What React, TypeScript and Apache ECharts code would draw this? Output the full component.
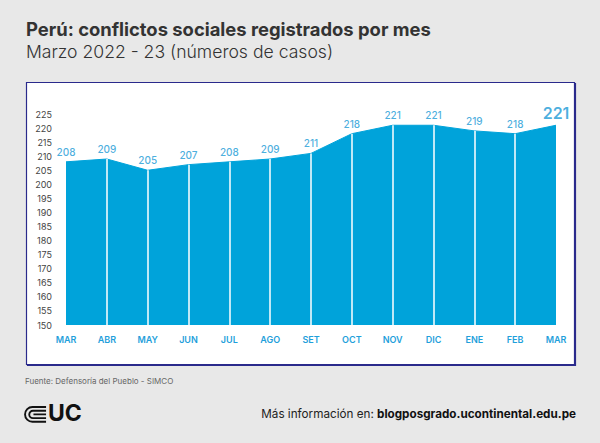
import React, { useEffect, useRef } from "react";
import * as echarts from "echarts";

const categories = ["MAR", "ABR", "MAY", "JUN", "JUL", "AGO", "SET", "OCT", "NOV", "DIC", "ENE", "FEB", "MAR"];
const values = [208, 209, 205, 207, 208, 209, 211, 218, 221, 221, 219, 218, 221];
const yMin = 150;
const yMax = 225;
const yStep = 5;

const titleText = "Perú: conflictos sociales registrados por mes";
const subtitleText = "Marzo 2022 - 23 (números de casos)";
const sourceText = "Fuente: Defensoría del Pueblo - SIMCO";
const moreInfoLabel = "Más información en: ";
const moreInfoUrl = "blogposgrado.ucontinental.edu.pe";

const logoPath =
  "M21 1 H8 A6.5 6.5 0 0 0 8 15 H21 M21 4.5 H8.5 A3.5 3.5 0 0 0 8.5 11.5 H21 M21 8 H9";

export default function App() {
  const ref = useRef<HTMLDivElement>(null);
  useEffect(() => {
    if (!ref.current) return;
    const Logo = (echarts.graphic as any).extendPath(logoPath, {});
    echarts.graphic.registerShape("uclogo", Logo);
    const chart = echarts.init(ref.current, null, { renderer: "svg" });
    const last = values.length - 1;
    chart.setOption({
      animation: false,
      backgroundColor: "#e8e8e8",
      textStyle: { fontFamily: "Inter, 'Noto Sans', sans-serif" },
      grid: { left: 66, right: 44, top: 114, bottom: 118 },
      xAxis: {
        type: "category",
        data: categories,
        boundaryGap: false,
        axisLine: { show: false },
        axisTick: { show: false },
        splitLine: { show: false },
        axisLabel: { color: "#1f9fdb", fontSize: 9, fontWeight: 600, margin: 10, interval: 0 },
      },
      yAxis: {
        type: "value",
        min: yMin,
        max: yMax,
        interval: yStep,
        axisLine: { show: false },
        axisTick: { show: false },
        splitLine: { show: false },
        axisLabel: { color: "#444", fontSize: 9, margin: 14 },
      },
      graphic: [
        {
          type: "rect",
          z: -10,
          shape: { x: 26.5, y: 82.5, width: 548, height: 282 },
          style: { fill: "#ffffff", stroke: "#2b2a8c", lineWidth: 1.2, shadowColor: "#2b2a8c", shadowOffsetX: 1, shadowOffsetY: 1, shadowBlur: 0 },
        },
        {
          type: "text",
          left: 26,
          top: 20,
          style: { text: titleText, fill: "#333", fontSize: 18.4, fontWeight: 700, fontFamily: "Inter, sans-serif" },
        },
        {
          type: "text",
          left: 26,
          top: 42,
          style: { text: subtitleText, fill: "#333", fontSize: 17.6, fontWeight: 300, fontFamily: "Inter, sans-serif" },
        },
        {
          type: "text",
          left: 25,
          top: 377,
          style: { text: sourceText, fill: "#666", fontSize: 8, fontFamily: "Inter, sans-serif" },
        },
        {
          type: "uclogo",
          x: 24,
          y: 406,
          scaleX: 1.05,
          scaleY: 1.05,
          style: { fill: "none", stroke: "#111", lineWidth: 1.8 },
        },
        {
          type: "text",
          left: 48,
          top: 401,
          style: { text: "UC", fill: "#111", fontSize: 23, fontWeight: 700, fontFamily: "Inter, sans-serif" },
        },
        {
          type: "text",
          right: 24,
          top: 408,
          style: {
            text: "{a|" + moreInfoLabel + "}{b|" + moreInfoUrl + "}",
            rich: {
              a: { fill: "#222", fontSize: 11.7, fontWeight: 400, fontFamily: "Inter, sans-serif" },
              b: { fill: "#111", fontSize: 11.7, fontWeight: 700, fontFamily: "Inter, sans-serif" },
            },
          },
        },
      ],
      series: [
        {
          type: "line",
          data: values,
          symbol: "none",
          lineStyle: { color: "#00a3da", width: 1 },
          areaStyle: { color: "#00a3da", opacity: 1 },
          markLine: {
            silent: true,
            symbol: "none",
            label: { show: false },
            lineStyle: { color: "#ffffff", width: 1.5, type: "solid" },
            data: values.slice(1, last).map((v, i) => [
              { coord: [i + 1, yMin] },
              { coord: [i + 1, v] },
            ]),
          },
        },
        {
          type: "scatter",
          data: values.map((v, i) =>
            i === last
              ? { value: v, label: { fontSize: 16, fontWeight: 600, distance: 3 } }
              : v
          ),
          symbolSize: 2,
          itemStyle: { color: "rgba(0,0,0,0)" },
          z: 5,
          label: { show: true, position: "top", color: "#1a9ad6", fontSize: 10, fontWeight: 500, distance: 4 },
        },
      ],
    });
    return () => chart.dispose();
  }, []);
  return <div ref={ref} style={{ width: 600, height: 443, position: "absolute", left: 0, top: 0 }} />;
}
